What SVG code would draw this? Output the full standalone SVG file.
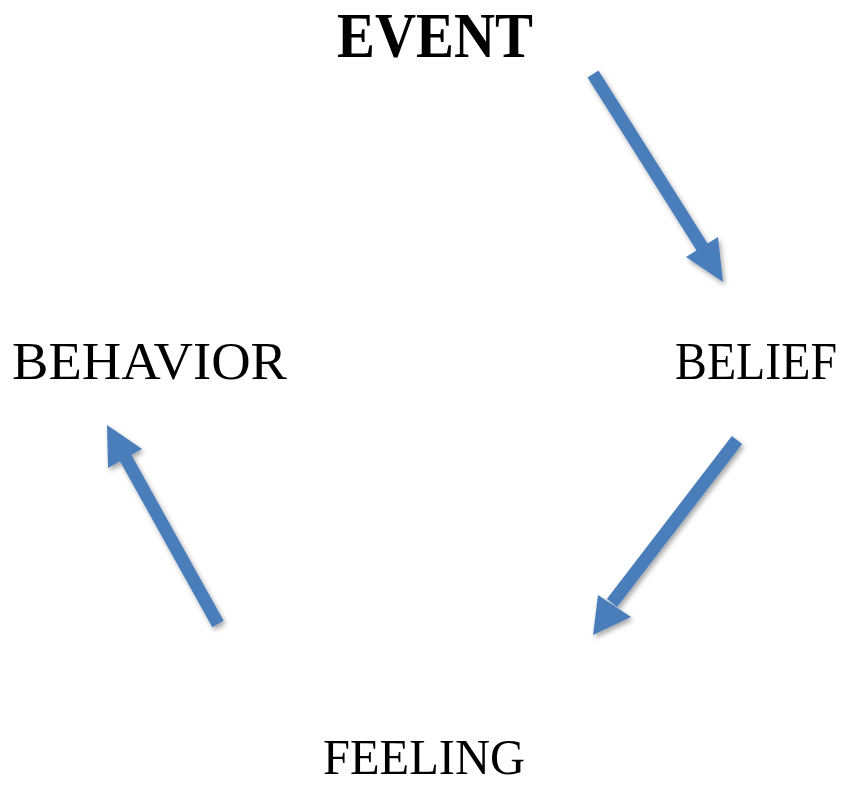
<svg xmlns="http://www.w3.org/2000/svg" width="845" height="786" viewBox="0 0 845 786">
<defs>
<filter id="sh" x="-20%" y="-20%" width="140%" height="140%">
<feDropShadow dx="2" dy="3" stdDeviation="2.5" flood-color="#000" flood-opacity="0.35"/>
</filter>
<style>
.lbl{font-family:"Liberation Serif","Times New Roman",serif;fill:#000;}
.shaft{stroke:#4a7ebb;stroke-width:13;fill:none;}
.head{fill:#4a7ebb;}
</style>
</defs>
<rect width="845" height="786" fill="#fff"/>
<g id="event"><text class="lbl" x="337" y="57" font-size="64" font-weight="bold" textLength="196" lengthAdjust="spacingAndGlyphs">EVENT</text></g>
<g id="belief"><text class="lbl" transform="translate(675,379) scale(1,1.08)" x="0" y="0" font-size="48" textLength="162" lengthAdjust="spacingAndGlyphs">BELIEF</text></g>
<g id="feeling"><text class="lbl" x="323" y="774" font-size="50" textLength="202" lengthAdjust="spacingAndGlyphs">FEELING</text></g>
<g id="behavior"><text class="lbl" x="12" y="379" font-size="52" textLength="275" lengthAdjust="spacingAndGlyphs">BEHAVIOR</text></g>
<g id="connectors" filter="url(#sh)">
<g><line class="shaft" x1="593" y1="74" x2="704" y2="250"/><polygon class="head" points="686,257 718,237 723,282"/></g>
<g><line class="shaft" x1="737" y1="440" x2="612" y2="603"/><polygon class="head" points="598,595 631,617 593,635"/></g>
<g><line class="shaft" x1="218" y1="624" x2="124" y2="455"/><polygon class="head" points="108,468 142,449 107,425"/></g>
</g>
</svg>
